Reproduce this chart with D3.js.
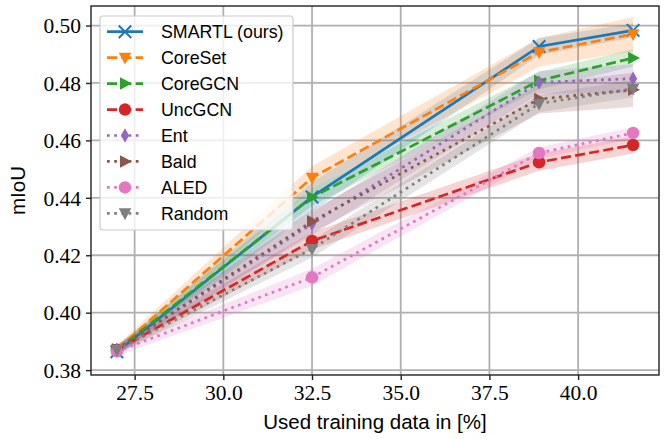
<!DOCTYPE html>
<html>
<head>
<meta charset="utf-8">
<script src="https://cdn.jsdelivr.net/npm/d3@7"></script>
<style>
  body { margin: 0; background: #fff; }
  svg { display: block; }
</style>
</head>
<body>
<script>
const width = 672;
const height = 439;

// data
const xVals = [27.0, 32.5, 38.9, 41.55];
const seriesNames = ["SMARTL (ours)", "CoreSet", "CoreGCN", "UncGCN", "Ent", "Bald", "ALED", "Random"];
const smartl  = [0.3864, 0.4403, 0.4927, 0.4983];
const coreset = [0.3872, 0.4470, 0.4907, 0.4970];
const coregcn = [0.3870, 0.4402, 0.4808, 0.4887];
const uncgcn  = [0.3870, 0.4250, 0.4524, 0.4584];
const ent     = [0.3872, 0.4310, 0.4802, 0.4815];
const bald    = [0.3873, 0.4318, 0.4744, 0.4776];
const aled    = [0.3865, 0.4123, 0.4556, 0.4626];
const random  = [0.3870, 0.4222, 0.4728, 0.4780];
// spread (shaded band half width)
const smartlStd  = [0.0015, 0.005, 0.003, 0.0025];
const coresetStd = [0.0015, 0.004, 0.005, 0.006];
const coregcnStd = [0.0015, 0.003, 0.003, 0.003];
const uncgcnStd  = [0.0015, 0.003, 0.003, 0.003];
const entStd     = [0.0015, 0.004, 0.004, 0.005];
const baldStd    = [0.0015, 0.004, 0.005, 0.006];
const aledStd    = [0.0015, 0.003, 0.002, 0.002];
const randomStd  = [0.0015, 0.003, 0.003, 0.003];
const xTicks = [27.5, 30.0, 32.5, 35.0, 37.5, 40.0];
const yTicks = [0.38, 0.40, 0.42, 0.44, 0.46, 0.48, 0.50];

const dashed = "10,4.3";
const dotted = "2.7,4.5";

const series = [
  { name: seriesNames[0], v: smartl,  s: smartlStd,  color: "#1f77b4", dash: null,   marker: "x" },
  { name: seriesNames[1], v: coreset, s: coresetStd, color: "#ff7f0e", dash: dashed, marker: "tdown" },
  { name: seriesNames[2], v: coregcn, s: coregcnStd, color: "#2ca02c", dash: dashed, marker: "tright" },
  { name: seriesNames[3], v: uncgcn,  s: uncgcnStd,  color: "#d62728", dash: dashed, marker: "circle" },
  { name: seriesNames[4], v: ent,     s: entStd,     color: "#9467bd", dash: dotted, marker: "diamond" },
  { name: seriesNames[5], v: bald,    s: baldStd,    color: "#8c564b", dash: dotted, marker: "tright" },
  { name: seriesNames[6], v: aled,    s: aledStd,    color: "#e377c2", dash: dotted, marker: "circle" },
  { name: seriesNames[7], v: random,  s: randomStd,  color: "#7f7f7f", dash: dotted, marker: "tdown" }
];

const plot = { left: 91, right: 659, top: 6, bottom: 375 };

const x = d3.scaleLinear().domain([26.27, 42.28]).range([plot.left, plot.right]);
const y = d3.scaleLinear().domain([0.3783, 0.5068]).range([plot.bottom, plot.top]);

const svg = d3.select("body").append("svg")
  .attr("width", width)
  .attr("height", height);

const serif = "'Liberation Serif', serif";
const sans = "'Liberation Sans', sans-serif";

// grid
svg.append("g")
  .selectAll("line.gx").data(xTicks).enter().append("line")
  .attr("x1", d => x(d)).attr("x2", d => x(d))
  .attr("y1", plot.top).attr("y2", plot.bottom)
  .attr("stroke", "#b0b0b0").attr("stroke-width", 1.8);
svg.append("g")
  .selectAll("line.gy").data(yTicks).enter().append("line")
  .attr("y1", d => y(d)).attr("y2", d => y(d))
  .attr("x1", plot.left).attr("x2", plot.right)
  .attr("stroke", "#b0b0b0").attr("stroke-width", 1.8);

svg.append("clipPath").attr("id", "clip")
  .append("rect")
  .attr("x", plot.left).attr("y", plot.top)
  .attr("width", plot.right - plot.left).attr("height", plot.bottom - plot.top);

const g = svg.append("g").attr("clip-path", "url(#clip)");

// bands
const area = d3.area()
  .x(d => x(d.x))
  .y0(d => y(d.v - d.s))
  .y1(d => y(d.v + d.s));

series.forEach(sr => {
  const pts = xVals.map((xv, i) => ({ x: xv, v: sr.v[i], s: sr.s[i] }));
  g.append("path")
    .attr("d", area(pts))
    .attr("fill", sr.color)
    .attr("fill-opacity", 0.2);
});

// markers
function drawMarker(sel, type, color, size) {
  const r = size / 2;
  if (type === "x") {
    sel.append("path")
      .attr("d", `M${-r},${-r}L${r},${r}M${-r},${r}L${r},${-r}`)
      .attr("stroke", color).attr("stroke-width", 2).attr("fill", "none");
  } else if (type === "circle") {
    sel.append("circle").attr("r", r).attr("fill", color);
  } else if (type === "tdown") {
    sel.append("path")
      .attr("d", `M${-r},${-r * 0.8}L${r},${-r * 0.8}L0,${r * 1.1}Z`)
      .attr("fill", color);
  } else if (type === "tright") {
    sel.append("path")
      .attr("d", `M${-r * 0.8},${-r}L${r * 1.1},0L${-r * 0.8},${r}Z`)
      .attr("fill", color);
  } else if (type === "diamond") {
    sel.append("path")
      .attr("d", `M0,${-r * 1.15}L${r * 0.65},0L0,${r * 1.15}L${-r * 0.65},0Z`)
      .attr("fill", color);
  }
}

const line = d3.line().x(d => x(d.x)).y(d => y(d.v));

series.forEach(sr => {
  const pts = xVals.map((xv, i) => ({ x: xv, v: sr.v[i] }));
  g.append("path")
    .attr("d", line(pts))
    .attr("fill", "none")
    .attr("stroke", sr.color)
    .attr("stroke-width", 2.7)
    .attr("stroke-dasharray", sr.dash);
  pts.forEach(p => {
    const m = g.append("g").attr("transform", `translate(${x(p.x)},${y(p.v)})`);
    drawMarker(m, sr.marker, sr.color, 12.5);
  });
});

// frame
svg.append("rect")
  .attr("x", plot.left).attr("y", plot.top)
  .attr("width", plot.right - plot.left).attr("height", plot.bottom - plot.top)
  .attr("fill", "none").attr("stroke", "#222").attr("stroke-width", 1.4);

// axes
const xAxis = svg.append("g")
  .attr("transform", `translate(0,${plot.bottom})`)
  .call(d3.axisBottom(x).tickValues(xTicks).tickFormat(d3.format(".1f")).tickSize(5).tickSizeOuter(0));
const yAxis = svg.append("g")
  .attr("transform", `translate(${plot.left},0)`)
  .call(d3.axisLeft(y).tickValues(yTicks).tickFormat(d3.format(".2f")).tickSize(5).tickSizeOuter(0));

[xAxis, yAxis].forEach(ax => {
  ax.select(".domain").remove();
  ax.selectAll(".tick line").attr("stroke", "#222").attr("stroke-width", 1.4);
  ax.selectAll(".tick text")
    .attr("fill", "#000")
    .style("font-family", serif)
    .style("font-size", "21.5px");
});
xAxis.selectAll(".tick text").attr("y", 10).attr("dy", "0.72em");
yAxis.selectAll(".tick text").attr("x", -10).attr("dy", "0.34em");

svg.append("text")
  .attr("x", (plot.left + plot.right) / 2)
  .attr("y", 429)
  .attr("text-anchor", "middle")
  .style("font-family", sans)
  .style("font-size", "20.5px")
  .text("Used training data in [%]");

svg.append("text")
  .attr("transform", `translate(25,${(plot.top + plot.bottom) / 2}) rotate(-90)`)
  .attr("text-anchor", "middle")
  .style("font-family", sans)
  .style("font-size", "20.5px")
  .text("mIoU");

// legend
const legend = svg.append("g");
legend.append("rect")
  .attr("x", 100).attr("y", 16)
  .attr("width", 193).attr("height", 214)
  .attr("rx", 3)
  .attr("fill", "#fff").attr("fill-opacity", 0.8)
  .attr("stroke", "#cccccc").attr("stroke-width", 1.2);

series.forEach((sr, i) => {
  const cy = 31.7 + i * 25.95;
  const row = legend.append("g");
  row.append("line")
    .attr("x1", 107).attr("x2", 143)
    .attr("y1", cy).attr("y2", cy)
    .attr("stroke", sr.color).attr("stroke-width", 2.7)
    .attr("stroke-dasharray", sr.dash);
  const m = row.append("g").attr("transform", `translate(125,${cy})`);
  drawMarker(m, sr.marker, sr.color, 12.5);
  row.append("text")
    .attr("x", 161).attr("y", cy)
    .attr("dy", "0.36em")
    .style("font-family", sans)
    .style("font-size", "17.8px")
    .text(sr.name);
});
</script>
</body>
</html>
